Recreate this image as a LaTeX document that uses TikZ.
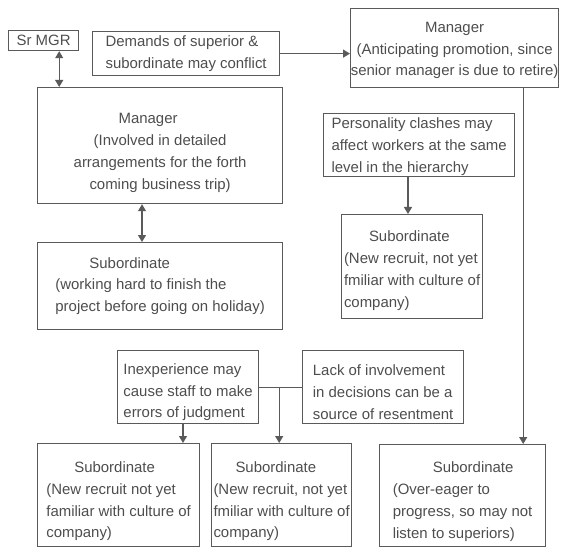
\documentclass[tikz,border=0pt]{standalone}
\usepackage{fontspec}
\setmainfont{Liberation Sans}
\usetikzlibrary{arrows.meta}
\definecolor{txt}{HTML}{4D4D4D}
\definecolor{ln}{HTML}{5A5A5A}
\newcommand\lowr[1]{\rule{0pt}{\dimexpr 11bp+#1\relax}}
\begin{document}
\begin{tikzpicture}[x=1bp,y=-1bp,
  box/.style={draw=ln, line width=1.2bp, rectangle, inner sep=0pt, text=txt,
    font=\fontsize{15}{22}\selectfont, anchor=north west},
  conn/.style={draw=ln, line width=1.2bp},
  tip/.style={-{Triangle[length=7bp,width=8bp]}},
  twotip/.style={{Triangle[length=7bp,width=8bp]}-{Triangle[length=7bp,width=8bp]}}
]
\useasboundingbox (0,0) rectangle (588,547);

\node[box, minimum width=70bp, minimum height=20bp, align=center] (srmgr) at (8,30) {Sr MGR};
\node[box, minimum width=187bp, minimum height=44bp, align=left] (demands) at (92,31)
  {Demands of superior \&\\subordinate may conflict};
\node[box, minimum width=245bp, minimum height=116bp, align=center] (mgrL) at (37,87)
  {\lowr{14bp}Manager\hspace*{24bp}\\(Involved in detailed\\arrangements for the forth\\coming business trip)};
\node[box, minimum width=208bp, minimum height=79bp, align=center] (mgrR) at (350,8)
  {\lowr{4bp}Manager\\(Anticipating promotion, since\\senior manager is due to retire)};
\node[box, minimum width=245bp, minimum height=87bp, align=left] (subL) at (37,242)
  {\hspace*{34bp}Subordinate\\(working hard to finish the\\project before going on holiday)};
\node[box, minimum width=191bp, minimum height=63bp, align=left] (pers) at (323,113)
  {\lowr{3bp}Personality clashes may\\affect workers at the same\\level in the hierarchy};
\node[box, minimum width=141bp, minimum height=104bp, align=left] (subM) at (341,214)
  {\lowr{8bp}\hspace*{25bp}Subordinate\\(New recruit, not yet\\fmiliar with culture of\\company)};
\node[box, minimum width=141bp, minimum height=73bp, align=left] (inexp) at (117,350)
  {\lowr{10bp}Inexperience may\\cause staff to make\\errors of judgment};
\node[box, minimum width=161bp, minimum height=73bp, align=left] (lack) at (302,350)
  {\lowr{10bp}Lack of involvement\\in decisions can be a\\source of resentment};
\node[box, minimum width=162bp, minimum height=103bp, align=left] (botL) at (37,443)
  {\lowr{12bp}\hspace*{28bp}Subordinate\\(New recruit not yet\\familiar with culture of\\company)};
\node[box, minimum width=140bp, minimum height=103bp, align=left] (botM) at (211,443)
  {\lowr{12bp}\hspace*{22bp}Subordinate\\(New recruit, not yet\\fmiliar with culture of\\company)};
\node[box, minimum width=166bp, minimum height=102bp, align=left] (botR) at (379,444)
  {\lowr{12bp}\hspace*{40bp}Subordinate\\(Over-eager to\\progress, so may not\\listen to superiors)};

\draw[conn,twotip] ([xshift=-20bp]srmgr.south east) -- ([xshift=-20bp]srmgr.south east |- mgrL.north);
\draw[conn,twotip] ([xshift=105bp]mgrL.south west) -- ([xshift=105bp]subL.north west);
\draw[conn,tip] (demands.east) -- (demands.east -| mgrR.west);
\draw[conn,tip] ([xshift=-36bp]mgrR.south east) -- ([xshift=-36bp]mgrR.south east |- botR.north);
\draw[conn,tip] ([xshift=85bp]pers.south west) -- ([xshift=85bp]pers.south west |- subM.north);
\draw[conn] (inexp.east) -- (lack.west);
\draw[conn,tip] ([xshift=20bp]inexp.east) -- ([xshift=20bp]inexp.east |- botM.north);
\draw[conn,tip] ([xshift=66bp]inexp.south west) -- ([xshift=66bp]inexp.south west |- botL.north);
\end{tikzpicture}
\end{document}
